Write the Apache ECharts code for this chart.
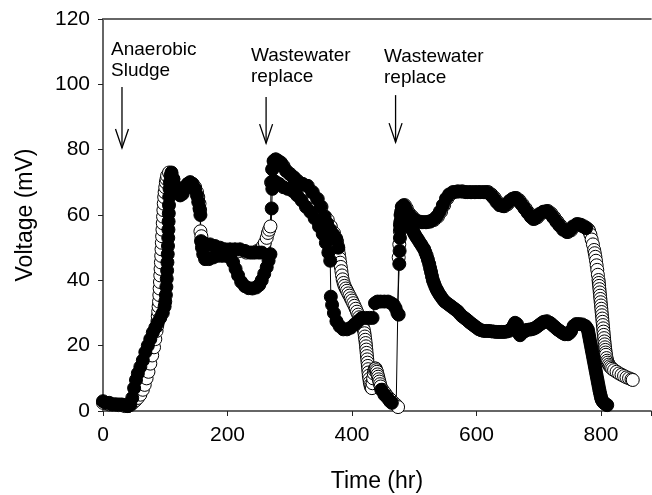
<!DOCTYPE html>
<html><head><meta charset="utf-8">
<script src="https://cdn.jsdelivr.net/npm/echarts@6/dist/echarts.min.js"></script>
<style>html,body{margin:0;padding:0;background:#fff}#c{width:652px;height:495px}</style>
</head><body><div id="c"></div>
<script>
// ---- data (time hr, voltage mV) ----
const seriesA = [[0,3],[5,2.5],[10,2.5],[15,2],[20,2],[25,2],[30,2],[35,1.8],[40,1.5],[44,2],[47,4],[50,7],[53,9.5],[56,11.5],[60,13.5],[64,15.5],[68,18],[72,20],[76,22],[80,24],[84,25.5],[88,27],[92,28.5],[96,30],[99,32],[100,33.5],[101,35.5],[101.8,38],[102.4,40.5],[103,43],[103.5,45.5],[104,48],[104.4,50.5],[104.8,53],[105.1,55.5],[105.4,58],[105.7,60.5],[106,63],[106.4,65.5],[106.9,68],[107.5,70],[108.5,72],[110,73],[113,71],[116,69],[120,67],[124,66],[128,66.5],[132,68],[136,69.5],[140,70],[144,69.5],[148,68],[151,66],[153,64],[155,62],[156.5,60],[157.5,52],[159,50],[161,48],[164,46.5],[170,46.5],[177,47],[184,47.5],[191,47.5],[198,47.5],[204,47],[209,45.5],[213,43.5],[217,41.5],[222,39.5],[228,38.2],[234,37.6],[240,37.5],[246,37.8],[251,38.6],[255,40],[259,42],[263,44],[266,46],[269,48],[271,62],[272,68],[274,70.5],[278,70],[283,69.5],[290,68.5],[297,68],[305,67.3],[312,66],[319,64.5],[326,62.5],[333,61],[340,59],[347,56.5],[353,54.2],[358,51.5],[362,48.5],[365,46],[366,35],[368,32.5],[371,30],[375,27.5],[380,26],[386,25],[392,25],[398,25.5],[404,26.5],[410,27.5],[416,28.5],[422,28.5],[428,28.5],[433,28.5],[437,33],[441,33.5],[446,33.5],[452,33.5],[458,33.5],[463,33],[467,32.5],[470,31.5],[473,30],[475,29.5],[476,45],[476.5,49],[477,53],[477.5,55.5],[478,58],[479,61],[481,62.5],[484,62],[487,60.5],[489.5,59.3],[492,58],[494.5,56.7],[497,55.5],[499,54.7],[501,54],[503.5,53.2],[506,52.5],[508.5,51.7],[511,51],[513.5,50.2],[516,49.5],[518,48.5],[520,47.5],[522,46.3],[524,45],[525.5,43.7],[527,42.5],[528.5,41.2],[530,40],[532,39],[534,38],[536,37.2],[538,36.5],[540.5,35.7],[543,35],[546,34.2],[549,33.5],[552.5,33],[556,32.5],[559.5,32],[563,31.5],[566.5,31],[570,30.5],[573.5,29.7],[577,29],[580.5,28.5],[584,28],[587,27.5],[590,27],[593.5,26.5],[597,26],[600.5,25.5],[604,25],[608,24.7],[612,24.5],[616,24.5],[620,24.5],[624,24.4],[628,24.3],[632,24.2],[636,24.2],[640,24.2],[644,24.2],[648,24.3],[652,24.5],[655,25],[658,25.5],[660,26.3],[662,27],[665,26.6],[667,24],[670,23.2],[674,24],[677,24.4],[680,24.8],[684,24.9],[688,25],[691.5,25.2],[695,25.5],[698.5,26],[702,26.5],[705,26.9],[708,27.3],[713,27.5],[718,27],[721,26.5],[724,26],[727,25.5],[730,25],[733,24.6],[736,24.2],[739,23.8],[742,23.5],[747,23.5],[750,24],[752,24.5],[756,26],[760,26.6],[765,26.6],[770,26.5],[775,26],[777,25.5],[779,24.8],[780,23.8],[781,22.8],[782,21.8],[783,20.8],[784,19.8],[785,18.8],[786,17.8],[787,16.8],[788,15.8],[789,14.8],[790,13.8],[791,12.8],[792,11.8],[793,10.8],[794,9.8],[795,8.8],[796,7.8],[797,6.8],[798,5.9],[799,5],[800,4.2],[801,3.5],[802.5,3],[804,2.6],[806,2.3],[808,2],[810,1.8]];

const seriesC = [[160,50.5],[166,51],[172,51],[180,50.5],[188,50],[196,49.5],[204,49.5],[212,49.5],[220,49.5],[228,49],[236,48.5],[244,48.5],[250,48.5],[255,48.5],[260,null],
[271,70],[272,74],[274,76.5],[277,77],[281,76.5],[285,76],[289,75],[294,73.5],[300,72.5],[306,71.5],[312,70.4],[320,69.5],[328,68.9],[336,67],[344,64.9],[350,62.5],[356,59.5],[360,57.5],[365,55.5],[370,54],[375,52.5],[378,50],[400,null],
[447,6.5],[452,5],[457,4],[461,3],[464,2.5],[470,null],
[477,57],[478,60],[480,62.5],[483,63],[486,62],[490,60.5],[495,59.5],[500,58.5],[506,58],[512,57.8],[518,57.8],[524,58],[530,58.5],[536,59.5],[541,61],[546,63],[551,65],[556,66.3],[562,67],[569,67.2],[576,67.2],[583,67],[590,67],[597,67],[604,67],[611,67],[617,67],[622,66.3],[627,65.3],[632,64],[637,63],[643,62.7],[648,63.3],[653,64.3],[658,65],[662,65.2],[667,64.5],[672,63.3],[677,62],[682,60.7],[687,59.5],[691,58.8],[696,59.3],[701,60.3],[707,61],[713,61.2],[718,60.5],[723,59.3],[728,58],[733,56.8],[739,55.5],[745,54.8],[750,55.3],[755,56.5],[761,57.2],[766,57],[771,56.5],[776,56]];

const seriesB = [[0,2.5],[5,2.5],[10,2],[15,2],[20,2],[25,1.8],[30,1.8],[35,1.5],[40,1.5],[44,1.8],[48,2.5],[52,3.2],[56,4],[60,5],[64,6.5],[67,8],[70,10],[73,12],[76,14.5],[79,17],[82,19.5],[84,22],[86,24.5],[87,26],[87.5,27.5],[88,29],[88.7,30.5],[89.3,32],[90,33.5],[90.5,35.5],[91,37.5],[91.5,39.5],[92,41.5],[92.5,43.5],[93,45.5],[93.5,47.5],[94,49.5],[94.5,51.5],[95,53.5],[95.5,55.5],[96,57.5],[96.5,59.5],[97,61.5],[97.6,63.5],[98.3,65.5],[99,67],[100,68.5],[101,70],[102,71],[103,72],[106,73],[110,72.5],[113,71],[116,68.5],[120,67],[124,66.5],[128,67.5],[132,68.5],[136,69.5],[140,70],[144,69.5],[148,68.5],[151,67],[153,65.5],[155,63.5],[156,61.5],[156.5,55],[158,53.5],[161,51.5],[165,50.5],[172,50],[180,50],[190,49.5],[200,49],[210,49],[220,49],[230,48.5],[240,48.5],[248,49],[253,49.5],[257,50.5],[260,51.5],[263,53],[265,54.5],[267,55.5],[269,56.5],[270,70],[272,74],[275,76.5],[278,77],[282,76.5],[286,76],[290,75],[295,73.5],[301,72.5],[307,71.5],[313,70.4],[321,69.5],[329,68.9],[337,67],[345,64.9],[351,62.5],[357,59.5],[361,58.5],[366,56.5],[371,54.5],[374,53],[376,51.8],[377,50.5],[378,49.3],[379,48],[380,46.7],[381,45.4],[382,44.1],[383,42.8],[384,41.5],[385,40.3],[386.5,39.2],[388,38.3],[390,37.5],[392,36.8],[394,36],[396,35.3],[398,34.5],[400,33.8],[402,33],[404,32.2],[406,31.3],[408,30.4],[410,29.5],[411.5,28.7],[413,28],[414.5,27.2],[416,26.5],[417.5,25.7],[419,24.8],[420,23.8],[420.7,22.8],[421.3,21.8],[422,20.8],[422.5,19.8],[423,18.8],[423.5,17.8],[424,16.8],[424.5,15.8],[425,14.8],[425.5,13.8],[426,12.8],[426.5,11.8],[427,10.8],[427.8,9.8],[428.6,8.8],[429.5,8],[430.5,7.3],[432,7],[433,8.5],[434,10],[435,11.5],[436,12.5],[437,13],[438,13],[439,12.5],[440,12],[441,11.2],[442,10.5],[443,9.7],[444,9],[445,8.2],[446,7.5],[449,6.5],[453,5.5],[457,4.5],[462,3.5],[467,2.5],[471,1.8],[474,1.2],[475,47],[476,51],[477,55],[478,58],[479,60],[480,61.5],[482,62.5],[485,63],[488,62],[492,60.5],[497,59.5],[502,58.5],[508,58],[514,57.8],[520,57.8],[526,58],[532,58.5],[538,59.5],[543,61],[548,63],[553,65],[558,66.3],[564,67],[571,67.2],[578,67.2],[585,67],[592,67],[599,67],[606,67],[613,67],[619,67],[624,66.3],[629,65.3],[634,64],[639,63],[645,62.7],[650,63.3],[655,64.3],[660,65],[664,65.2],[669,64.5],[674,63.3],[679,62],[684,60.7],[689,59.5],[693,58.8],[698,59.3],[703,60.3],[709,61],[715,61.2],[720,60.5],[725,59.3],[730,58],[735,56.8],[741,55.5],[747,54.8],[752,55.3],[757,56.5],[763,57.2],[768,57],[773,56.5],[777,56],[780,55.5],[781,55],[783,54],[785,52.5],[787,51],[789,49.3],[790,48.3],[791,47.2],[792,46],[793,44.6],[794,43.2],[795,41.7],[796,40.1],[796.5,39.2],[797,38.3],[797.5,37.3],[798,36.3],[798.5,35.3],[799,34.3],[799.5,33.3],[800,32.3],[800.5,31.3],[801,30.3],[801.5,29.3],[802,28.3],[802.5,27.3],[803,26.3],[803.5,25.3],[804,24.3],[804.5,23.3],[805,22.3],[805.5,21.3],[806,20.4],[806.5,19.5],[807,18.7],[807.5,17.9],[808,17.2],[809,16.2],[810,15.4],[811,14.8],[812.5,14.2],[814,13.7],[816,13.3],[818,12.9],[821,12.5],[825,12],[829,11.5],[833,11.1],[837,10.7],[841,10.3],[845,10],[849,9.7],[851,9.5]];

// ---- annotations (data coordinates) ----
const annotText = ['Anaerobic\nSludge', 'Wastewater\nreplace', 'Wastewater\nreplace'];
const annotTextPos = [[12.9, 113.7], [237.8, 111.9], [451.4, 111.6]];
const arrowAt = [30.5, 262, 470];
const arrowTop = [99.2, 96.1, 96.7];
const arrowTip = [80.5, 82.0, 82.3];

const FONT = '"Liberation Sans", Arial, Helvetica, sans-serif';
const toData = arr => arr.map(p => [p[0], p[1] === null ? '-' : p[1]]);

function mk(name, data, filled) {
  return {
    type: 'line', name, data: toData(data), symbol: 'circle', symbolSize: 13,
    showSymbol: true, showAllSymbol: true, clip: false, silent: true, animation: false,
    connectNulls: false,
    lineStyle: { color: '#000', width: 1 },
    itemStyle: { color: filled ? '#000' : '#fff', borderColor: '#000', borderWidth: 1 },
    emphasis: { disabled: true }
  };
}

const chart = echarts.init(document.getElementById('c'), null, { renderer: 'canvas' });
const axisCommon = { min: 0, type: 'value', splitLine: { show: false } };
chart.setOption({
  animation: false,
  backgroundColor: '#fff',
  grid: { left: 103, top: 19, right: 1.2, bottom: 84, containLabel: false, outerBoundsMode: 'none' },
  xAxis: [
    Object.assign({}, axisCommon, {
      max: 880, interval: 200, name: 'Time (hr)', nameLocation: 'middle', nameGap: 59,
      nameTextStyle: { fontFamily: FONT, fontSize: 23, color: '#000' },
      axisLine: { show: true, onZero: false, lineStyle: { color: '#666', width: 2 } },
      axisTick: { show: true, inside: false, length: 5, lineStyle: { color: '#222', width: 1 } },
      axisLabel: { margin: 14, fontFamily: FONT, fontSize: 21, color: '#000',
        formatter: v => (v <= 800 ? String(v) : '') }
    }),
    Object.assign({}, axisCommon, {
      max: 880, position: 'top', axisLine: { show: true, onZero: false, lineStyle: { color: '#666', width: 2 } },
      axisTick: { show: false }, axisLabel: { show: false }
    })
  ],
  yAxis: Object.assign({}, axisCommon, {
    max: 120, interval: 20, name: 'Voltage (mV)', nameLocation: 'middle', nameGap: 66, nameRotate: 90,
    nameTextStyle: { fontFamily: FONT, fontSize: 23, color: '#000' },
    axisLine: { show: true, onZero: false, lineStyle: { color: '#666', width: 2 } },
    axisTick: { show: true, inside: false, length: 5, lineStyle: { color: '#222', width: 1 } },
    axisLabel: { margin: 13, fontFamily: FONT, fontSize: 21, color: '#000' }
  }),
  series: [mk('open', seriesB, false), mk('filled2', seriesC, true), mk('filled1', seriesA, true)]
});

const g = [];
for (let i = 0; i < annotText.length; i++) {
  const tp = chart.convertToPixel({ xAxisIndex: 0, yAxisIndex: 0 }, annotTextPos[i]);
  g.push({ type: 'text', silent: true, x: tp[0], y: tp[1],
    style: { text: annotText[i], fill: '#000', font: '19px ' + FONT, lineHeight: 21, verticalAlign: 'top', align: 'left' } });
  const a = chart.convertToPixel({ xAxisIndex: 0, yAxisIndex: 0 }, [arrowAt[i], arrowTop[i]]);
  const b = chart.convertToPixel({ xAxisIndex: 0, yAxisIndex: 0 }, [arrowAt[i], arrowTip[i]]);
  g.push({ type: 'line', silent: true, shape: { x1: a[0], y1: a[1], x2: b[0], y2: b[1] }, style: { stroke: '#000', lineWidth: 1.3 } });
  g.push({ type: 'polyline', silent: true, shape: { points: [[b[0] - 6.5, b[1] - 19], [b[0], b[1]], [b[0] + 6.5, b[1] - 19]] },
    style: { stroke: '#000', lineWidth: 1.3, fill: null } });
}
chart.setOption({ graphic: g });
</script></body></html>
